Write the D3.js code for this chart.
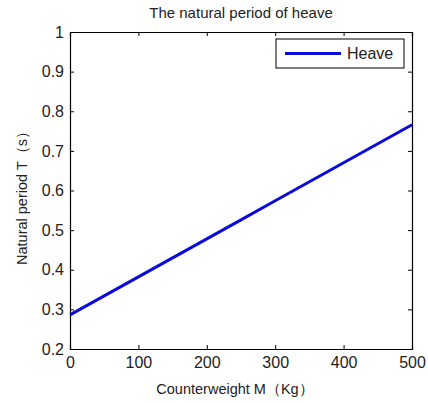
<!DOCTYPE html>
<html>
<head>
<meta charset="utf-8">
<script src="https://cdn.jsdelivr.net/npm/d3@7"></script>
<style>
  body { margin: 0; background: #fff; }
  text { font-family: "Liberation Sans", Arial, sans-serif; fill: #222; }
</style>
</head>
<body>
<div id="chart"></div>
<script>
// counterweight M (kg) and natural period T (s)
var mass = [0, 50, 100, 150, 200, 250, 300, 350, 400, 450, 500];
var period = [0.286, 0.334, 0.382, 0.430, 0.478, 0.526, 0.574, 0.622, 0.670, 0.718, 0.766];
var xTicks = [0, 100, 200, 300, 400, 500];
var yTicks = [0.2, 0.3, 0.4, 0.5, 0.6, 0.7, 0.8, 0.9, 1];
var seriesName = 'Heave';

function lineChart(parentId) {
    var width = 428, height = 403;
    var margin = { left: 70, right: 16, top: 32, bottom: 54 };
    var w = width - margin.left - margin.right;
    var h = height - margin.top - margin.bottom;

    var svg = d3.select('#' + parentId).append('svg')
        .attr('width', width)
        .attr('height', height);

    var g = svg.append('g')
        .attr('transform', 'translate(' + margin.left + ',' + margin.top + ')');

    var x = d3.scaleLinear().domain([0, 500]).range([0, w]);
    var y = d3.scaleLinear().domain([0.2, 1]).range([h, 0]);

    var tick = 4;

    // bottom / left axes with labels, ticks pointing inward
    var xAxis = g.append('g').attr('transform', 'translate(0,' + h + ')')
        .call(d3.axisBottom(x).tickValues(xTicks).tickSize(-tick).tickPadding(8).tickFormat(d3.format('d')));
    var yAxis = g.append('g')
        .call(d3.axisLeft(y).tickValues(yTicks).tickSize(-tick).tickPadding(6).tickFormat(function (d) { return d === 1 ? '1' : d3.format('.1f')(d); }));

    // top / right ticks without labels
    var xTop = g.append('g')
        .call(d3.axisTop(x).tickValues(xTicks).tickSize(-tick).tickFormat(''));
    var yRight = g.append('g').attr('transform', 'translate(' + w + ',0)')
        .call(d3.axisRight(y).tickValues(yTicks).tickSize(-tick).tickFormat(''));

    [xAxis, yAxis, xTop, yRight].forEach(function (a) {
        a.select('.domain').attr('stroke', '#000').attr('stroke-width', 1.2);
        a.selectAll('.tick line').attr('stroke', '#000');
        a.selectAll('.tick text').style('font-size', '16px').attr('fill', '#333');
    });

    var line = d3.line()
        .x(function (d, i) { return x(mass[i]); })
        .y(function (d) { return y(d); });

    g.append('path')
        .datum(period)
        .attr('d', line)
        .attr('fill', 'none')
        .attr('stroke', '#0a0adc')
        .attr('stroke-width', 3);

    // legend
    var leg = g.append('g').attr('transform', 'translate(' + (w - 136) + ',7)');
    leg.append('rect')
        .attr('width', 128).attr('height', 29)
        .attr('fill', '#fff').attr('stroke', '#000').attr('stroke-width', 1);
    leg.append('line')
        .attr('x1', 9).attr('x2', 65).attr('y1', 14.5).attr('y2', 14.5)
        .attr('stroke', '#0a0adc').attr('stroke-width', 3);
    leg.append('text')
        .attr('x', 71).attr('y', 20)
        .style('font-size', '16px')
        .attr('fill', '#333')
        .text(seriesName);

    // title and axis labels
    svg.append('text')
        .attr('x', margin.left + w / 2).attr('y', 18)
        .attr('text-anchor', 'middle')
        .style('font-size', '15px')
        .text('The natural period of heave');

    svg.append('text')
        .attr('x', margin.left + w / 2 - 6).attr('y', 394)
        .attr('text-anchor', 'middle')
        .style('font-size', '14.5px')
        .text('Counterweight M（Kg）');

    svg.append('text')
        .attr('transform', 'translate(27,' + (margin.top + h / 2 + 4) + ') rotate(-90)')
        .attr('text-anchor', 'middle')
        .style('font-size', '14.5px')
        .text('Natural period T（s）');
}

lineChart('chart');
</script>
</body>
</html>
